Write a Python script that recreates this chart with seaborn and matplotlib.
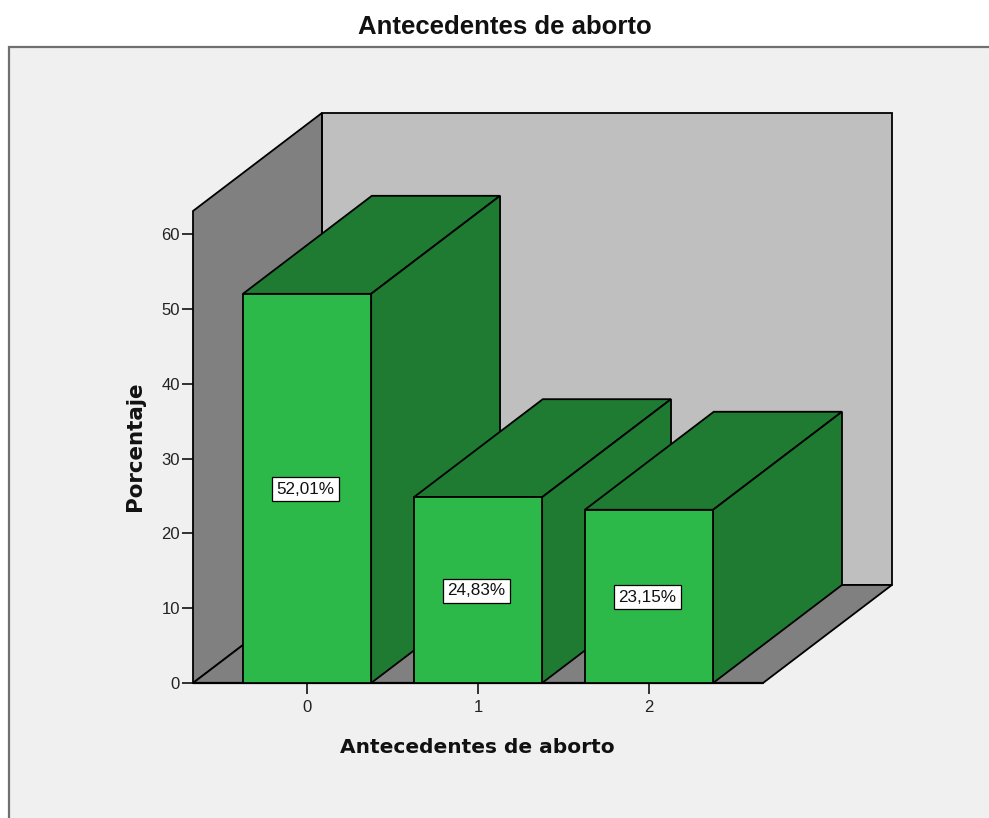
import pandas as pd
import matplotlib.pyplot as plt
from matplotlib.patches import Polygon, Rectangle
import seaborn as sns

categorias = ['0', '1', '2']
porcentajes = [52.01, 24.83, 23.15]
etiquetas = ['52,01%', '24,83%', '23,15%']
ticks_y = [0, 10, 20, 30, 40, 50, 60]

df = pd.DataFrame({'Antecedentes': categorias, 'Porcentaje': porcentajes})

sns.set_style('white')
plt.rcParams['font.family'] = ['Liberation Sans', 'DejaVu Sans']

W, H = 989, 818
fig = plt.figure(figsize=(W / 100, H / 100), dpi=100, facecolor='white')
ax = fig.add_axes([193 / W, 1 - 683 / H, 570 / W, 472 / H])
ax.set_facecolor('none')

# panel gris de fondo, se sale por la derecha y por abajo
fig.add_artist(Rectangle((9 / W, -0.02), 1.02, 1 - 47 / H + 0.02, transform=fig.transFigure,
                         facecolor='#F0F0F0', edgecolor='#707070', linewidth=1.6, zorder=-5))

sns.barplot(data=df, x='Antecedentes', y='Porcentaje', color='#2DB84A', saturation=1,
            width=0.75, edgecolor='black', linewidth=1.3, ax=ax)

x0, x1 = -0.667, 2.667
ymax = 63.08
dx = 0.754
dy = 13.1
ax.set_xlim(x0, x1)
ax.set_ylim(0, ymax)

# paredes y suelo del grafico 3D
borde = dict(edgecolor='black', linewidth=1.3, clip_on=False, joinstyle='miter')
ax.add_patch(Polygon([(x0 + dx, dy), (x1 + dx, dy), (x1 + dx, ymax + dy), (x0 + dx, ymax + dy)],
                     facecolor='#BFBFBF', zorder=0.5, **borde))
ax.add_patch(Polygon([(x0, 0), (x0 + dx, dy), (x0 + dx, ymax + dy), (x0, ymax)],
                     facecolor='#808080', zorder=0.6, **borde))
ax.add_patch(Polygon([(x0, 0), (x1, 0), (x1 + dx, dy), (x0 + dx, dy)],
                     facecolor='#808080', zorder=0.7, **borde))

# caras de arriba y laterales de cada barra
barras = list(ax.patches)[:len(categorias)]
for i, barra in enumerate(barras):
    a = barra.get_x()
    b = a + barra.get_width()
    h = barra.get_height()
    z = 2 + i
    barra.set_zorder(z + 0.2)
    ax.add_patch(Polygon([(a, h), (b, h), (b + dx, h + dy), (a + dx, h + dy)],
                         facecolor='#1F7A32', zorder=z, **borde))
    ax.add_patch(Polygon([(b, 0), (b + dx, dy), (b + dx, h + dy), (b, h)],
                         facecolor='#1F7A32', zorder=z + 0.1, **borde))
    ax.text(i - 0.01, h / 2 - 0.1, etiquetas[i], ha='center', va='center', fontsize=12.3, color='#111111',
            zorder=10, bbox=dict(boxstyle='square,pad=0.27', facecolor='white', edgecolor='black', linewidth=0.9))

for lado in ax.spines.values():
    lado.set_visible(False)
ax.plot([x0, x1], [0, 0], color='black', linewidth=1.6, zorder=1, clip_on=False)

ax.set_yticks(ticks_y)
ax.tick_params(axis='both', which='major', length=8, width=1.3, color='#222222',
               labelsize=12, labelcolor='#222222', left=True, bottom=True)
ax.tick_params(axis='x', pad=4)
ax.tick_params(axis='y', pad=1.5)

ax.set_xlabel('Antecedentes de aborto', fontsize=14.5, fontweight='bold', family='DejaVu Sans', color='#111111')
ax.set_ylabel('Porcentaje', fontsize=15.4, fontweight='bold', family='DejaVu Sans', color='#111111')
ax.xaxis.set_label_coords((477 - 193) / 570, (683 - 738) / 472)
ax.yaxis.set_label_coords((145 - 193) / 570, (683 - 446) / 472)

fig.suptitle('Antecedentes de aborto', x=505 / W, y=1 - 27 / H, va='center', ha='center',
             fontsize=18.5, fontweight='bold', color='#111111')

plt.savefig('out.png', dpi=100)
plt.close()
